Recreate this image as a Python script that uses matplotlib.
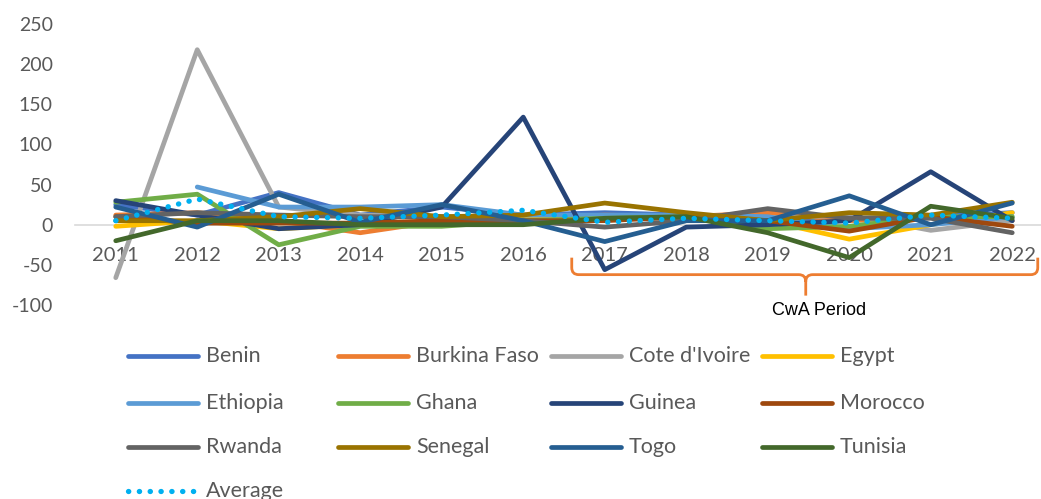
import numpy as np
import matplotlib
matplotlib.use("Agg")
import matplotlib.pyplot as plt
from matplotlib.lines import Line2D
from matplotlib.path import Path
from matplotlib.patches import PathPatch

plt.rcParams['font.family'] = ['Lato', 'DejaVu Sans']
plt.rcParams['axes.unicode_minus'] = False

years = ['2011', '2012', '2013', '2014', '2015', '2016', '2017', '2018', '2019', '2020', '2021', '2022']
nan = np.nan
benin        = [25, 12, 40, 12, 22, 12, 15, 12, 8, 8, 10, 15]
burkina_faso = [12, 15, 5, -10, 5, 8, 12, 10, 15, 5, 10, 5]
cote_divoire = [-66, 218, 22, 12, 10, 8, 8, 8, 8, 12, -7, 5]
egypt        = [-2, 5, -5, 0, 5, 8, 10, 10, 5, -18, 0, 15]
ethiopia     = [nan, 47, 22, 22, 25, 12, 12, 12, 10, -5, 0, 10]
ghana        = [28, 38, -25, -2, -2, 5, 8, 10, -5, -2, 10, 10]
guinea       = [30, 12, -5, 0, 22, 134, -56, -3, 0, 5, 66, 5]
morocco      = [10, 2, 2, 2, 5, 5, 5, 10, 5, -8, 10, -2]
rwanda       = [10, 15, 12, 10, 10, 5, -3, 5, 20, 8, 8, -10]
senegal      = [5, 5, 10, 20, 10, 12, 27, 15, 5, 15, 12, 28]
togo         = [22, -3, 38, 3, 25, 5, -21, 5, 5, 36, 0, 27]
tunisia      = [-20, 5, 5, 0, 0, 0, 8, 10, -10, -41, 23, 8]
average      = [5, 32, 10, 8, 12, 18, 3, 8, 5, 2, 12, 8]

names = ['Benin', 'Burkina Faso', "Cote d'Ivoire", 'Egypt', 'Ethiopia', 'Ghana',
         'Guinea', 'Morocco', 'Rwanda', 'Senegal', 'Togo', 'Tunisia']
series = [benin, burkina_faso, cote_divoire, egypt, ethiopia, ghana,
          guinea, morocco, rwanda, senegal, togo, tunisia]
colors = ['#4472C4', '#ED7D31', '#A5A5A5', '#FFC000', '#5B9BD5', '#70AD47',
          '#264478', '#9E480E', '#636363', '#997300', '#255E91', '#43682B']
avg_color = '#00B0F0'

W, H = 1041, 499
fig = plt.figure(figsize=(W / 100, H / 100), dpi=100)
ax_left, ax_right = 75, 1041
ax_top, ax_bot = 24, 305
ax = fig.add_axes([ax_left / W, 1 - ax_bot / H, (ax_right - ax_left) / W, (ax_bot - ax_top) / H])

x = np.arange(len(years))
lw = 3.4
for name, vals, c in zip(names, series, colors):
    ax.plot(x, vals, color=c, lw=lw, solid_joinstyle='round', solid_capstyle='round', zorder=2)
ax.plot(x, average, color=avg_color, lw=3.8, linestyle=(0, (0.05, 2.0)),
        dash_capstyle='round', zorder=3)

ax.set_ylim(-100, 250)
ax.set_yticks([-100, -50, 0, 50, 100, 150, 200, 250])
ax.set_xlim(-0.5, -0.5 + (ax_right - ax_left) / 81.5)
ax.set_xticks(x)
ax.set_xticklabels(years)
for s in ['top', 'right', 'left']:
    ax.spines[s].set_visible(False)
ax.spines['bottom'].set_position(('data', 0))
ax.spines['bottom'].set_color('#D9D9D9')
ax.spines['bottom'].set_linewidth(1.2)
ax.spines['bottom'].set_zorder(1)
ax.tick_params(axis='x', length=0, pad=16, labelsize=14.5, labelcolor='#595959')
ax.tick_params(axis='y', length=0, pad=16, labelsize=14, labelcolor='#595959')

# CwA bracket
xs_px = lambda p: (p - 116) / 81.5
ys_px = lambda p: (225 - p) / 0.804
xl, xr, xm = xs_px(572), xs_px(1038), xs_px(806)
yt, yb, ym = ys_px(258), ys_px(275), ys_px(296)
rx, ry = 7 / 81.5, 7 / 0.804
verts = [(xl, yt), (xl, yb + ry), (xl, yb), (xl + rx, yb),
         (xm - rx, yb), (xm, yb), (xm, yb - ry), (xm, ym),
         (xm, yb - ry), (xm, yb), (xm + rx, yb),
         (xr - rx, yb), (xr, yb), (xr, yb + ry), (xr, yt)]
codes = [Path.MOVETO, Path.LINETO, Path.CURVE3, Path.CURVE3,
         Path.LINETO, Path.CURVE3, Path.CURVE3, Path.LINETO,
         Path.MOVETO, Path.CURVE3, Path.CURVE3,
         Path.LINETO, Path.CURVE3, Path.CURVE3, Path.LINETO]
bracket = PathPatch(Path(verts, codes), facecolor='none', edgecolor='#ED7D31', lw=2.0, clip_on=False)
ax.add_patch(bracket)
ax.text(xs_px(819), ys_px(311), 'CwA Period', ha='center', va='center', fontsize=13,
        family=['Liberation Sans Narrow', 'Liberation Sans', 'DejaVu Sans'], color='black')

# legend (manual grid like Excel)
col_x = [128, 338, 551, 762]
row_y = [356, 403, 447, 491]
hl = 70
entries = [(n, c, '-') for n, c in zip(names, colors)] + [('Average', avg_color, 'dot')]
for i, (n, c, st) in enumerate(entries):
    r, k = divmod(i, 4)
    x0 = col_x[k]
    yy = 1 - row_y[r] / H
    if st == '-':
        ln = Line2D([x0 / W, (x0 + hl) / W], [yy, yy], transform=fig.transFigure,
                    color=c, lw=lw, solid_capstyle='round')
    else:
        ln = Line2D([x0 / W, (x0 + hl - 4) / W], [yy, yy], transform=fig.transFigure,
                    color=c, lw=3.8, linestyle=(0, (0.05, 2.0)), dash_capstyle='round')
    fig.add_artist(ln)
    fig.text((x0 + hl + 8) / W, yy, n, ha='left', va='center', fontsize=15.5, color='#595959')

fig.savefig('out.png', dpi=100)
